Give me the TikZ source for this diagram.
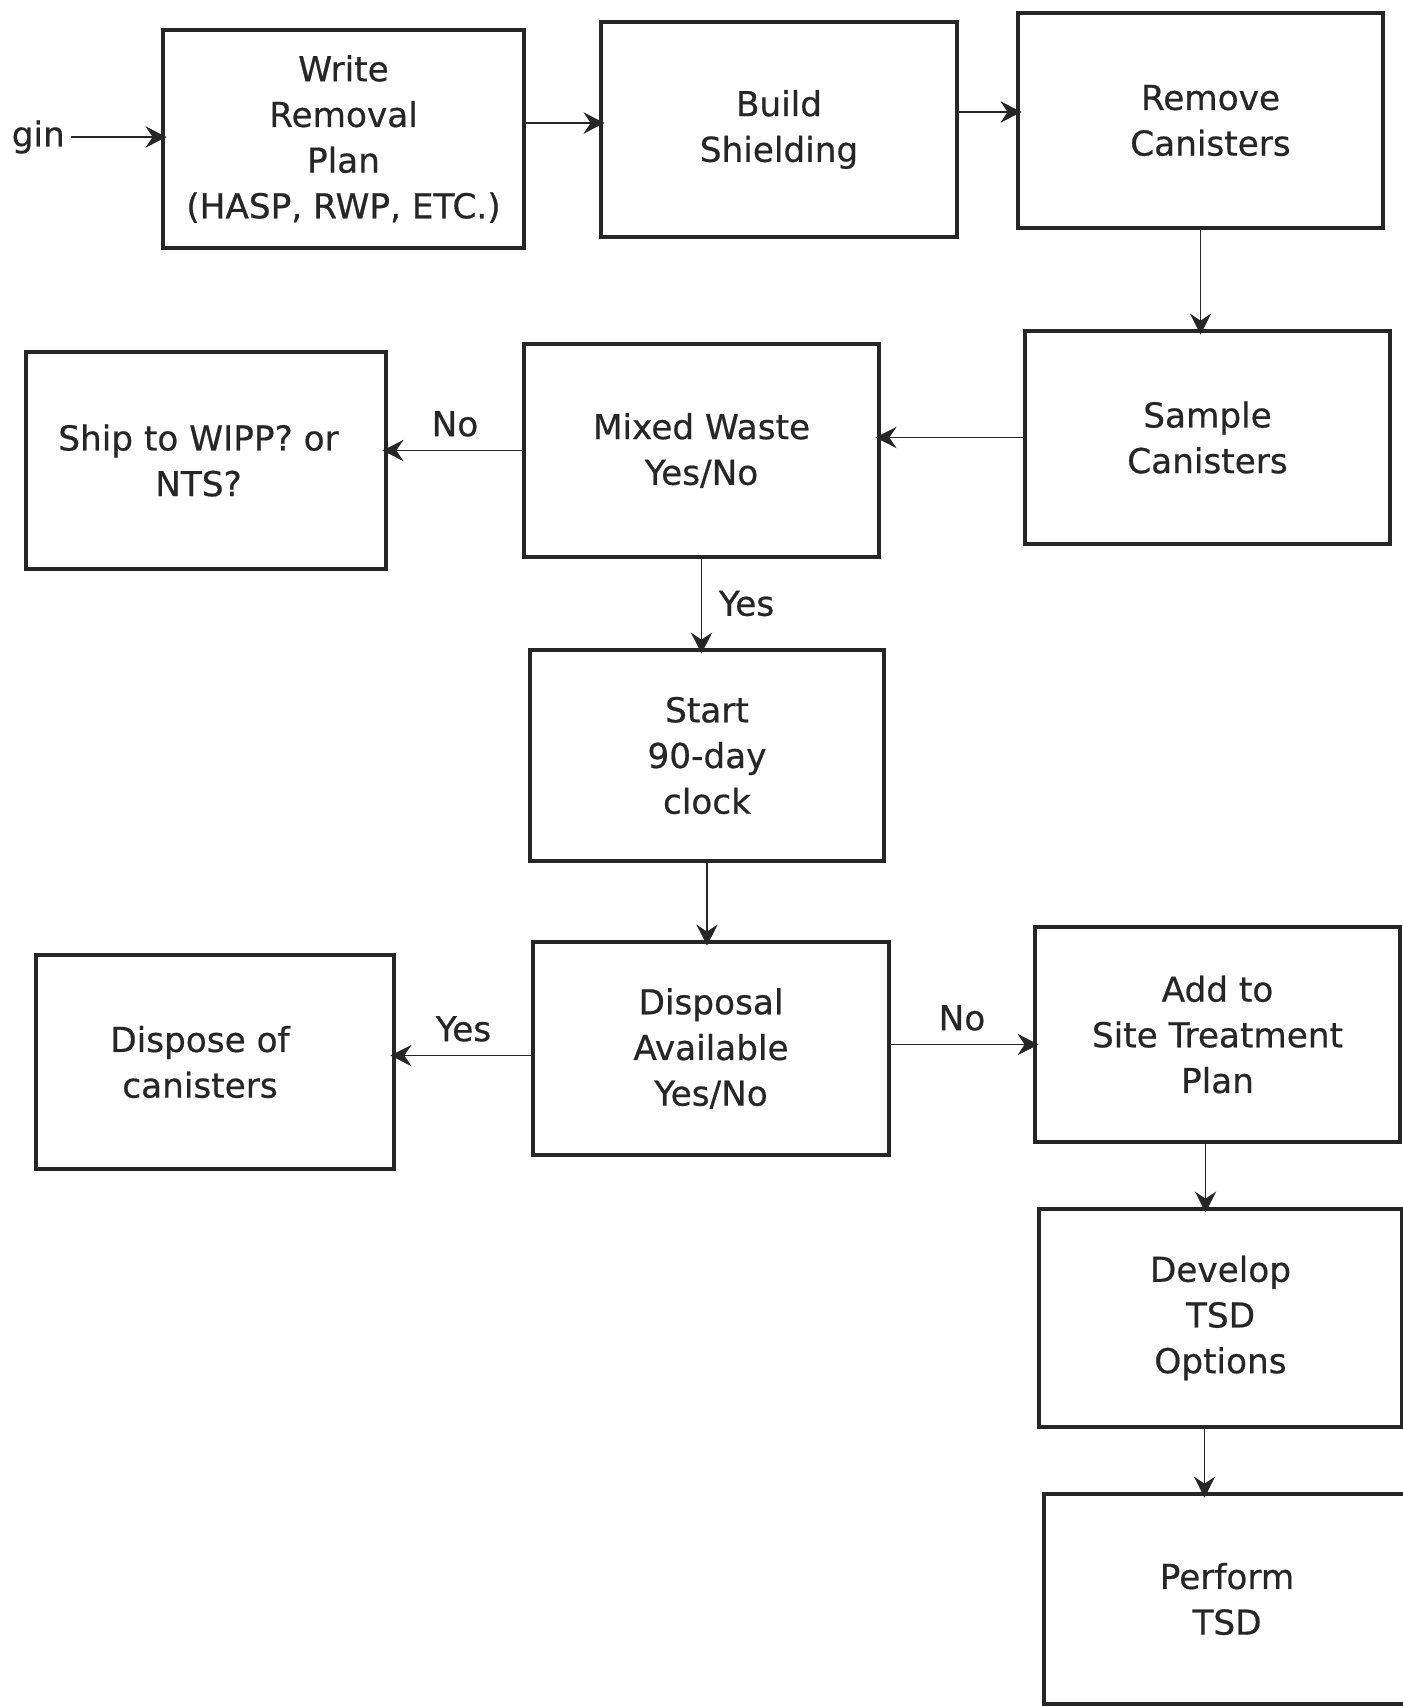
\documentclass[tikz,border=0pt]{standalone}
\usepackage{fontspec}
\setmainfont{DejaVu Sans}
\newfontfamily\boxfont{DejaVu Sans}[FakeBold=0.6]
\usetikzlibrary{arrows.meta,positioning}
\definecolor{ink}{HTML}{262626}

\begin{document}
\begin{tikzpicture}[>={Stealth[length=12pt,width=12pt,inset=4pt]},
  font=\boxfont\fontsize{19.5}{26}\selectfont,
  stepbox/.style={draw=ink,line width=1.8pt,text=ink,align=center,
    minimum width=7.2cm,minimum height=4.3cm,inner sep=0pt},
  flow/.style={->,draw=ink,line width=1.1pt,shorten >=-3pt},
  tag/.style={text=ink}]
  \useasboundingbox (0,0) rectangle (28.06,-34.12);

  % Top row
  \node[anchor=east,text=ink] (begin) at (1.42,-2.74) {gin};
  \node[stepbox,minimum width=7.22cm,minimum height=4.36cm] (write) at (6.87,-2.78)
    {Write\\Removal\\Plan\\(HASP, RWP, ETC.)};
  \node[stepbox,minimum width=7.12cm] (build) at (15.58,-2.59)
    {Build\\Shielding};
  \node[stepbox,minimum width=7.3cm] (remove) at (24.01,-2.41)
    {\hspace*{4mm}Remove\\\hspace*{4mm}Canisters};

  \draw[flow] (begin.east) -- (begin.east -| write.west);
  \draw[flow] ([yshift=3.2mm]write.east) -- ([yshift=3.2mm]write.east -| build.west);
  \draw[flow] ([yshift=3.5mm]build.east) -- ([yshift=3.5mm]build.east -| remove.west);

  % Sampling and the mixed waste decision
  \node[stepbox,minimum width=7.3cm,minimum height=4.26cm] (sample) at (24.15,-8.75)
    {Sample\\Canisters};
  \node[stepbox,minimum width=7.1cm,minimum height=4.26cm] (mixed) at (14.03,-9.01)
    {Mixed Waste\\Yes/No};
  \node[stepbox,minimum width=7.2cm,minimum height=4.34cm] (ship) at (4.12,-9.21)
    {Ship to WIPP? or\hspace*{3mm}\\NTS?\hspace*{3mm}};

  \draw[flow] (remove.south) -- (remove.south |- sample.north);
  \draw[flow] (sample.west) -- (sample.west -| mixed.east);
  \draw[flow] (mixed.west) -- (mixed.west -| ship.east)
    node[midway,above=4pt,tag] {No};

  % 90-day clock
  \node[stepbox,minimum width=7.08cm,minimum height=4.22cm] (start) at (14.14,-15.11)
    {Start\\90-day\\clock};
  \draw[flow] (mixed.south) -- (mixed.south |- start.north)
    node[midway,right=6pt,tag] {Yes};

  % Disposal decision
  \node[stepbox,minimum width=7.12cm,minimum height=4.26cm] (disposal) at (14.22,-20.97)
    {Disposal\\Available\\Yes/No};
  \node[stepbox,minimum width=7.16cm,minimum height=4.28cm] (dispose) at (4.30,-21.24)
    {Dispose of\hspace*{6mm}\\canisters\hspace*{6mm}};
  \node[stepbox,minimum width=7.3cm] (add) at (24.35,-20.69)
    {Add to\\Site Treatment\\Plan};

  \draw[flow] (start.south) -- (start.south |- disposal.north);
  \draw[flow] ([yshift=-1.4mm]disposal.west) -- ([yshift=-1.4mm]disposal.west -| dispose.east)
    node[midway,above=4pt,tag] {Yes};
  \draw[flow] ([yshift=0.8mm]disposal.east) -- ([yshift=0.8mm]disposal.east -| add.west)
    node[midway,above=4pt,tag] {No};

  % Treatment, storage and disposal
  \node[stepbox,minimum width=7.26cm,minimum height=4.36cm] (develop) at (24.41,-26.36)
    {Develop\\TSD\\Options};
  \node[stepbox,minimum width=7.32cm,minimum height=4.2cm] (perform) at (24.54,-31.98)
    {Perform\\TSD};

  \draw[flow] ([xshift=-2.4mm]add.south) -- ([xshift=-2.4mm]add.south |- develop.north);
  \draw[flow] ([xshift=-3.2mm]develop.south) -- ([xshift=-3.2mm]develop.south |- perform.north);
\end{tikzpicture}
\end{document}
